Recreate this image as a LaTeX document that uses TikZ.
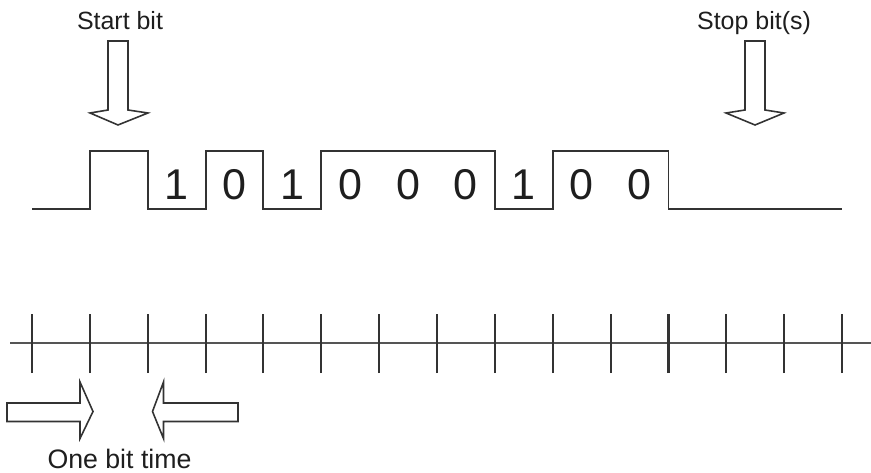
\documentclass[tikz,border=0pt]{standalone}
\usepackage{fontspec}
\setmainfont{Liberation Sans}
\usepackage{tikz}
\definecolor{tdInk}{HTML}{1E1E1E}
\definecolor{tdLine}{HTML}{333333}
\definecolor{tdAxis}{HTML}{555555}

\begin{document}
\begin{tikzpicture}[
  w/.style={draw=tdLine,line width=1.1pt,line join=miter},
  tk/.style={draw=tdLine,line width=1.2pt},
  tl/.style={draw=tdAxis,line width=0.9pt},
  ba/.style={draw=tdLine,fill=white,line width=0.9pt,line join=miter},
  lb/.style={font=\fontsize{14.2}{17}\selectfont,text=tdInk,anchor=base,inner sep=0pt},
  dg/.style={font=\fontsize{24.5}{29}\selectfont,text=tdInk,inner sep=0pt}]
\useasboundingbox (0,0) rectangle (17.42,9.44);
% labels
\node[lb] (start) at (2.40,8.84) {Start bit};
\node[lb] (stop) at (15.08,8.84) {Stop bit(s)};
\node[lb,font=\fontsize{15.2}{18}\selectfont] (obt) at (2.39,0.08) {One bit time};
% hollow arrows
\draw[ba] (2.16,8.62) -- (2.56,8.62) -- (2.56,7.24) -- (2.96,7.18) -- (2.36,6.94) -- (1.80,7.18) -- (2.16,7.24) -- cycle;
\draw[ba] (14.90,8.62) -- (15.30,8.62) -- (15.30,7.24) -- (15.68,7.18) -- (15.10,6.94) -- (14.52,7.18) -- (14.90,7.24) -- cycle;
\draw[ba] (0.14,1.01) -- (1.60,1.01) -- (1.60,0.67) -- (1.86,1.21) -- (1.60,1.80) -- (1.60,1.38) -- (0.14,1.38) -- cycle;
\draw[ba] (4.76,1.01) -- (3.27,1.01) -- (3.27,0.67) -- (3.05,1.21) -- (3.27,1.80) -- (3.27,1.38) -- (4.76,1.38) -- cycle;
% waveform, bits and time line
\begin{scope}[xshift=0.64cm,x=1.1572cm]
\draw[w] (0,5.26) -| (1,6.42) -| (2,5.26) -| (3,6.42) -| (4,5.26) -| (5,6.42) -| (8,5.26) -| (9,6.42) -| (11,5.26) -- (14,5.26);
\foreach \b [count=\i from 2] in {1,0,1,0,0,0,1,0,0}
  \node[dg] (d\i) at (\i+0.5,5.74) {\b};
\draw[tl] (-0.38,2.58) -- (14.5,2.58);
\foreach \i in {0,...,14}
  \draw[tk] (\i,1.98) -- (\i,3.16);
\end{scope}
\end{tikzpicture}
\end{document}
